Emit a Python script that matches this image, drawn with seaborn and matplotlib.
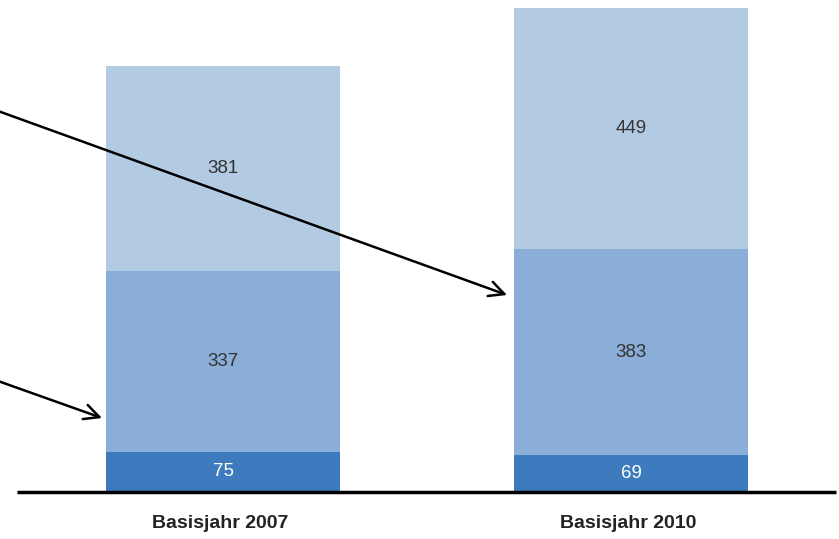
import matplotlib
matplotlib.use("Agg")
import matplotlib.pyplot as plt
import seaborn as sns
import pandas as pd
import numpy as np

categories = ["Basisjahr 2007", "Basisjahr 2010"]
seg_bottom = [75, 69]
seg_middle = [337, 383]
seg_top = [381, 449]

colors = ["#3E7BBE", "#8BAED8", "#B3CAE3"]
text_colors = ["white", "#333333", "#333333"]

sns.set_theme(style="white")
plt.rcParams['font.family'] = ['Liberation Sans', 'DejaVu Sans']

W, H = 839, 539
fig = plt.figure(figsize=(W / 100, H / 100), dpi=100)
ax = fig.add_axes([0, 0, 1, 1])

# pixel geometry helpers for limits
cx0, cx1 = 223.0, 631.0
sx = cx1 - cx0
base_px = 492.0
sy = (base_px - 66.0) / 793.0

segs = [seg_bottom, seg_middle, seg_top]
cums = np.cumsum(np.array(segs), axis=0)
bar_w = 234.0 / sx

for i in reversed(range(3)):
    df = pd.DataFrame({"cat": categories, "val": cums[i]})
    sns.barplot(data=df, x="cat", y="val", color=colors[i], width=bar_w,
                saturation=1, ax=ax, linewidth=0, order=categories)

ax.set_xlim(-cx0 / sx, (W - cx0) / sx)
ax.set_ylim(-(H - base_px) / sy, base_px / sy)

for i in range(3):
    for j in range(2):
        y = cums[i][j] - segs[i][j] / 2.0
        ax.text(j, y, str(segs[i][j]), ha="center", va="center",
                fontsize=13.5, color=text_colors[i])

# baseline
ax.plot([(17 - cx0) / sx, (836 - cx0) / sx], [0, 0], color="black",
        lw=2.5, solid_capstyle="butt", zorder=5)

for j, c in enumerate(categories):
    ax.text(j - 3 / sx, -(524 - base_px) / sy, c, ha="center", va="center",
            fontsize=14, fontweight="bold", color="#222222")

def px(x, y):
    return ((x - cx0) / sx, (base_px - y) / sy)

arrow = dict(arrowstyle="->,head_length=0.9,head_width=0.45", color="black",
             lw=1.8, shrinkA=0, shrinkB=0)
ax.annotate("", xy=px(507, 295), xytext=px(-2, 111), arrowprops=arrow)
ax.annotate("", xy=px(102, 418), xytext=px(-2, 381), arrowprops=arrow)

ax.set_axis_off()
fig.savefig("out.png", dpi=100)
